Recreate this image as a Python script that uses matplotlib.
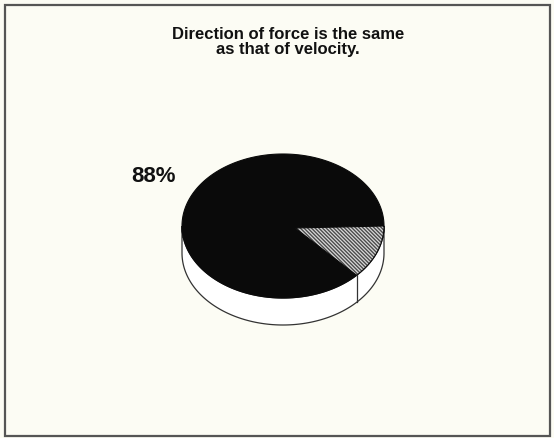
import numpy as np
import matplotlib.pyplot as plt
from matplotlib.patches import Polygon, Rectangle

# data
shares = [88, 12]
slice_names = ["same", "other"]
pct_labels = ["88%", ""]
title = "Direction of force is the same\nas that of velocity."

plt.rcParams["hatch.linewidth"] = 0.9

W, H = 554, 438
fig = plt.figure(figsize=(W / 100, H / 100), dpi=100)
fig.patch.set_facecolor("#fcfcf4")
ax = fig.add_axes([0, 0, 1, 1])
ax.set_xlim(0, W)
ax.set_ylim(H, 0)
ax.axis("off")

# frame
ax.add_patch(Rectangle((5, 5), 545, 431, fill=False, ec="#555555", lw=1.6))

ax.text(288, 42, title, ha="center", va="center", fontsize=12,
        fontweight="bold", family="Liberation Sans", linespacing=1.05,
        color="#111111")

# 3-D pie geometry (pixels)
cx, cy, rx, ry, depth = 283, 226, 101, 72, 27


def pt(t):
    return cx + rx * np.cos(t), cy - ry * np.sin(t)


# side wall (front half)
ts = np.linspace(np.pi, 2 * np.pi, 200)
top = np.column_stack([cx + rx * np.cos(ts), cy - ry * np.sin(ts)])
bot = top[::-1] + [0, depth]
ax.add_patch(Polygon(np.vstack([top, bot]), closed=True, fc="white",
                     ec="#333333", lw=0.9))

# slices, the small one starts at 0 rad and runs clockwise
total = sum(shares)
start = 0.0
angles = []
for v in shares[::-1]:
    span = 2 * np.pi * v / total
    angles.append((start - span, start))
    start -= span
angles = angles[::-1]

for name, (a0, a1) in zip(slice_names, angles):
    t = np.linspace(a0, a1, 200)
    xy = np.column_stack([cx + rx * np.cos(t), cy - ry * np.sin(t)])
    xy = np.vstack([[cx + 12, cy + 2], xy])
    if name == "same":
        ax.add_patch(Polygon(xy, closed=True, fc="#0a0a0a", ec="#0a0a0a",
                             lw=0.8))
    else:
        # hatch takes the edge colour, so fill and outline are drawn apart
        ax.add_patch(Polygon(xy, closed=True, fc="#4a4a4a", ec="#d8d8d8",
                             lw=0, hatch="\\" * 9))
        ax.add_patch(Polygon(xy, closed=True, fill=False, ec="#0a0a0a",
                             lw=0.8))

# edge line on the side where slices meet
a_edge = angles[1][0]
x_e, y_e = pt(a_edge)
if np.sin(a_edge) < 0:
    ax.plot([x_e, x_e], [y_e, y_e + depth], color="#333333", lw=0.9)

ax.text(153, 177, pct_labels[0], ha="center", va="center", fontsize=16,
        fontweight="bold", family="Liberation Sans", color="#111111")

fig.savefig("out.png", dpi=100, facecolor=fig.get_facecolor())
